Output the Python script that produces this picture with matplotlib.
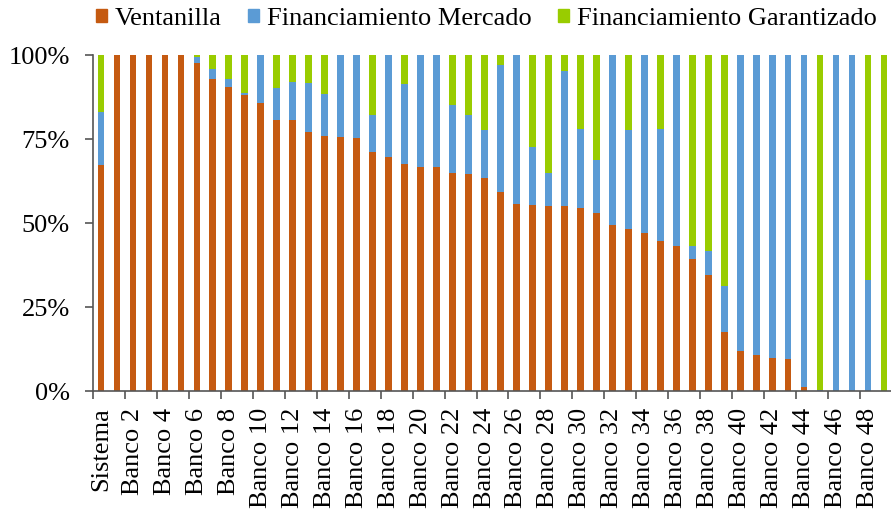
import matplotlib
matplotlib.use("Agg")
import matplotlib.pyplot as plt
import numpy as np
from matplotlib.patches import Patch

# Composition of funding by institution (share of total, %)
categories = ["Sistema"] + ["Banco %d" % i for i in range(1, 50)]

ventanilla = [67.2, 100, 100, 100, 100, 100, 97.7, 92.8, 90.6, 88.2,
              85.6, 80.6, 80.6, 77.2, 76.0, 75.6, 75.3, 71.0, 69.5, 67.5,
              66.7, 66.7, 64.9, 64.5, 63.5, 59.2, 55.7, 55.4, 55.0, 55.0,
              54.6, 53.1, 49.3, 48.2, 47.0, 44.7, 43.2, 39.3, 34.4, 17.6,
              11.8, 10.6, 9.9, 9.5, 1.1, 0, 0, 0, 0, 0]
mercado = [15.7, 0, 0, 0, 0, 0, 1.6, 3.0, 2.2, 0.4,
           14.4, 9.7, 11.5, 14.5, 12.3, 24.4, 24.7, 11.1, 30.5, 23.9,
           33.3, 33.3, 20.2, 17.6, 14.1, 37.8, 44.3, 17.2, 9.9, 40.1,
           23.3, 15.7, 50.7, 29.4, 53.0, 33.2, 56.8, 3.9, 7.2, 13.7,
           88.2, 89.4, 90.1, 90.5, 98.9, 0.4, 100, 100, 32.9, 0]
garantizado = [100 - v - m for v, m in zip(ventanilla, mercado)]

c_vent = "#C55A11"
c_merc = "#5B9BD5"
c_gar = "#99CC00"

plt.rcParams["font.family"] = ["Liberation Serif", "DejaVu Serif"]
fs = 19

fig = plt.figure(figsize=(8.91, 5.12), dpi=100)
ax = fig.add_axes([93 / 891, 121 / 512, 799 / 891, 336 / 512])

x = np.arange(len(categories))
w = 0.42
ax.bar(x, ventanilla, w, color=c_vent)
ax.bar(x, mercado, w, bottom=ventanilla, color=c_merc)
ax.bar(x, garantizado, w, bottom=np.array(ventanilla) + np.array(mercado), color=c_gar)

ax.set_xlim(-0.5, len(categories) - 0.5)
ax.set_ylim(0, 100)

# tick marks between category pairs, labels on every other category
ax.set_xticks(np.arange(-0.5, len(categories), 2))
ax.set_xticklabels([])
ax.set_xticks(x[::2], minor=True)
ax.set_xticklabels(categories[::2], minor=True, rotation=90, fontsize=fs)
ax.tick_params(axis="x", which="major", length=5.8, width=1.2, color="#555555")
ax.tick_params(axis="x", which="minor", length=0, pad=12)

ax.set_yticks([0, 25, 50, 75, 100])
ax.set_yticklabels(["0%", "25%", "50%", "75%", "100%"], fontsize=fs)
ax.tick_params(axis="y", length=5.8, width=1.2, color="#555555", pad=10.8)

for s in ["top", "right"]:
    ax.spines[s].set_visible(False)
for s in ["left", "bottom"]:
    ax.spines[s].set_color("#555555")
    ax.spines[s].set_linewidth(1.2)

handles = [Patch(color=c_vent, label="Ventanilla"),
           Patch(color=c_merc, label="Financiamiento Mercado"),
           Patch(color=c_gar, label="Financiamiento Garantizado")]
fig.legend(handles=handles, loc="center left", bbox_to_anchor=(96 / 891, 1 - 19 / 512),
           ncol=3, frameon=False, fontsize=fs, handlelength=0.42, handleheight=0.42,
           handletextpad=0.3, columnspacing=1.0, borderpad=0, borderaxespad=0)

fig.savefig("out.png", dpi=100)
